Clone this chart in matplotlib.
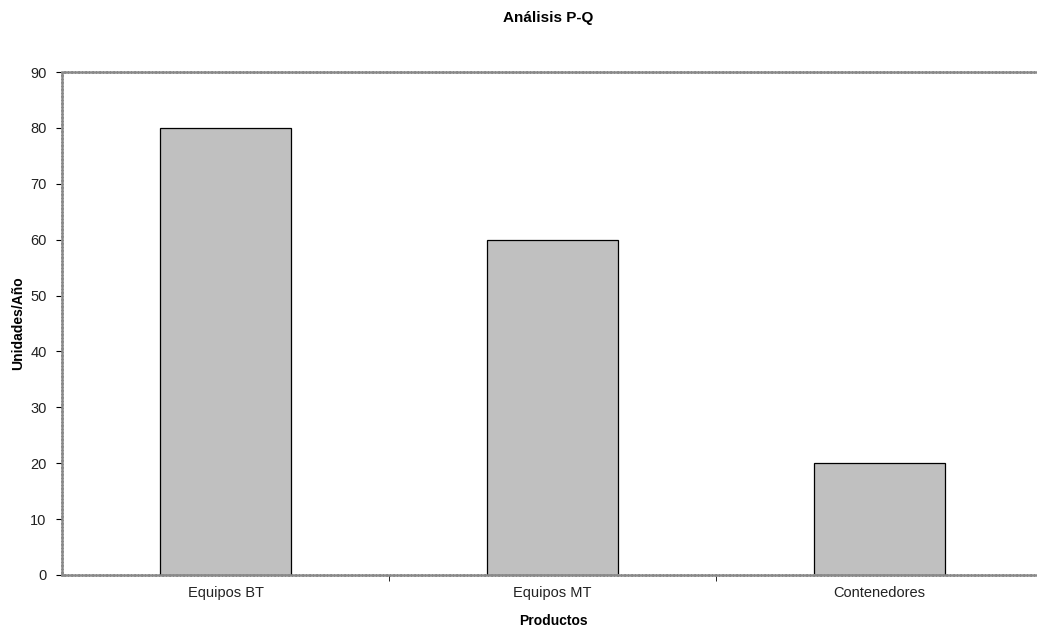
import numpy as np
import matplotlib
matplotlib.use("Agg")
import matplotlib.pyplot as plt

productos = ["Equipos BT", "Equipos MT", "Contenedores"]
unidades = [80, 60, 20]
yticks = list(range(0, 91, 10))

plt.rcParams['font.family'] = ['Liberation Sans', 'DejaVu Sans']

fig = plt.figure(figsize=(10.37, 6.3), dpi=100)
ax = fig.add_axes([62/1037, 55/630, 981/1037, 503/630])

x = np.arange(len(productos))
ax.bar(x, unidades, width=0.4, color='#c0c0c0', edgecolor='black', linewidth=0.9, zorder=2)

ax.set_xlim(-0.5, len(productos) - 0.5)
ax.set_ylim(0, 90)
ax.set_yticks(yticks)
ax.set_yticklabels([str(v) for v in yticks], fontsize=10.5, color='#222222')

# category labels centered, tick marks between categories
ax.set_xticks(x)
ax.set_xticklabels(productos, fontsize=10.5, color='#222222')
ax.tick_params(axis='x', length=0, pad=8)
ax.set_xticks(np.arange(0.5, len(productos) - 0.5), minor=True)
ax.tick_params(axis='x', which='minor', length=4, direction='out', color='black')
ax.tick_params(axis='y', length=4, direction='out', color='black', pad=7)

for side in ['left', 'top', 'bottom']:
    ax.spines[side].set_color('#8a8a8a')
    ax.spines[side].set_linewidth(1.8)
    ax.spines[side].set_linestyle((0, (0.7, 0.7)))
ax.spines['right'].set_visible(False)

fig.text(18/1037, 1 - 323/630, "Unidades/Año", rotation=90, ha='center', va='center',
         fontsize=10, fontweight='bold')
fig.text(553/1037, 1 - 621/630, "Productos", ha='center', va='center',
         fontsize=10, fontweight='bold')
fig.text(548/1037, 1 - 18/630, "Análisis P-Q", ha='center', va='center',
         fontsize=11, fontweight='bold')

fig.savefig("out.png", dpi=100)
